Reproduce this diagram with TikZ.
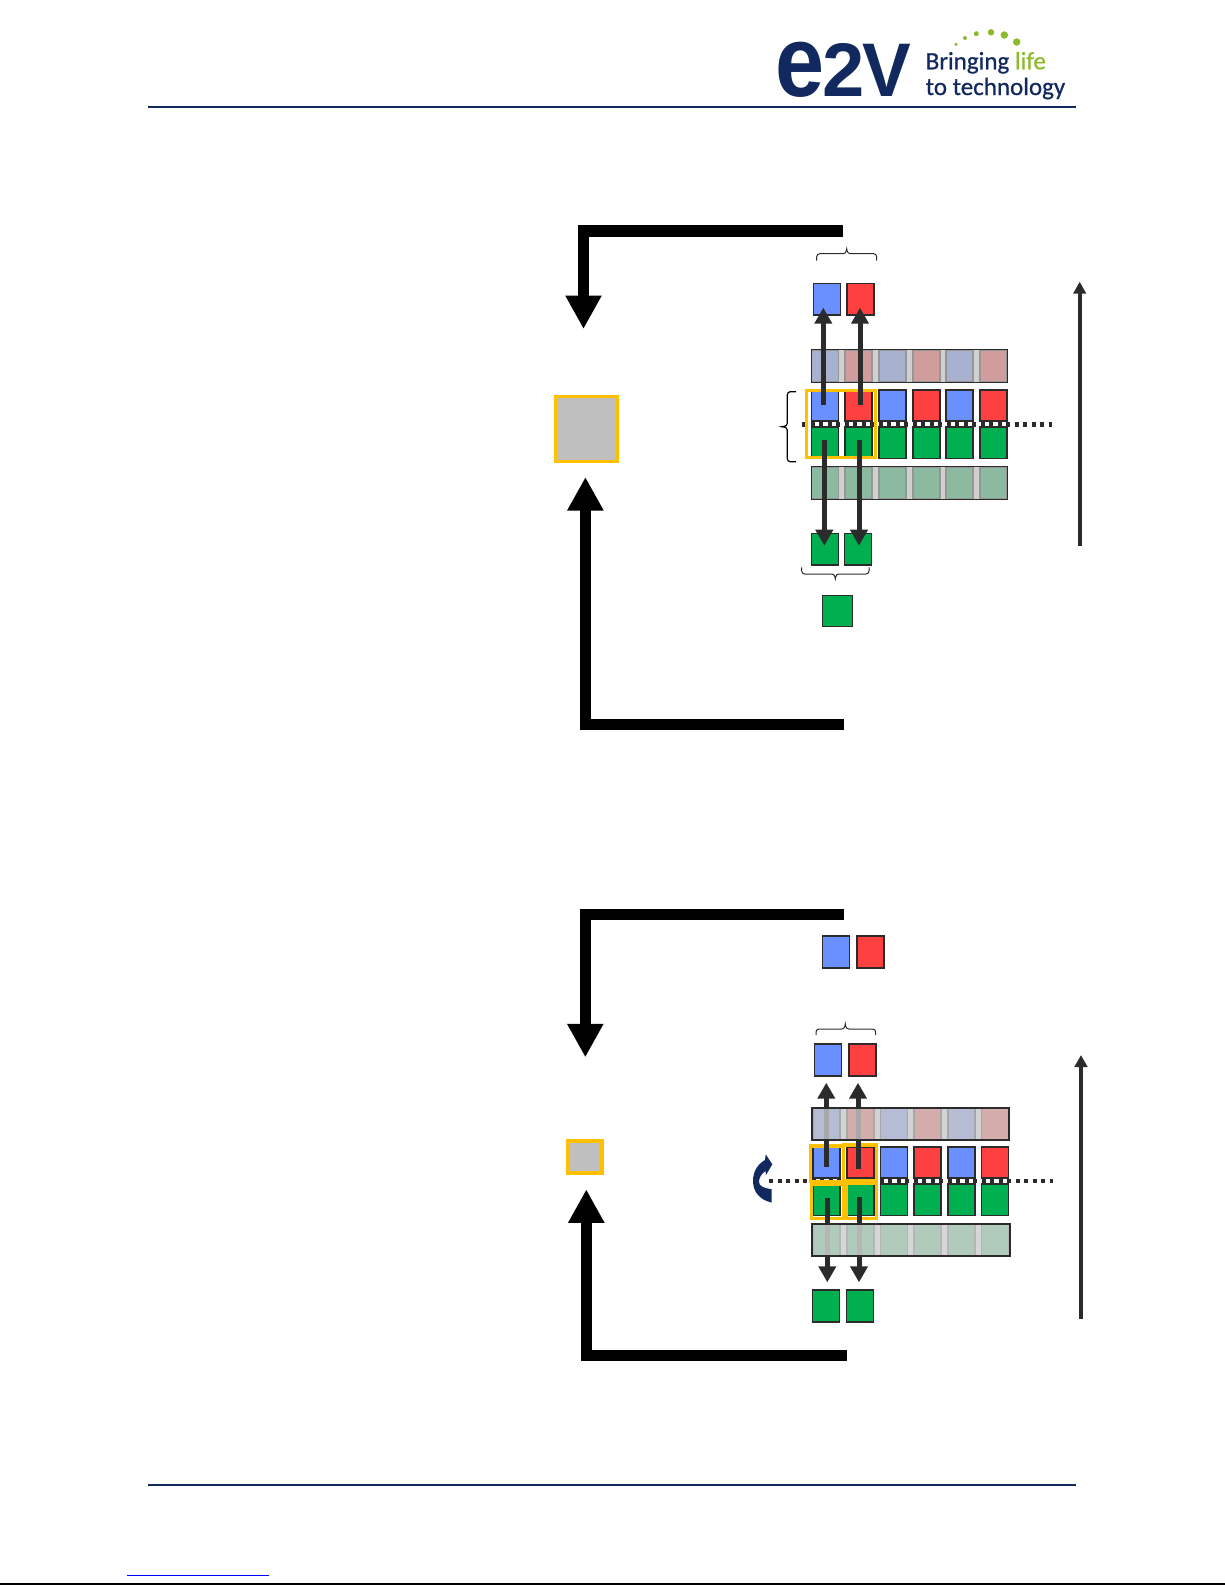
\documentclass[tikz,border=0pt]{standalone}
\usepackage{fontspec}
\setmainfont{Liberation Sans}
\newfontfamily\tagfont[FakeBold=0.7]{Carlito}
\usetikzlibrary{arrows.meta}
\definecolor{navy}{HTML}{12295F}
\definecolor{lime}{HTML}{8DB92E}
\definecolor{inkgray}{HTML}{2B2B2B}
\definecolor{pixblue}{HTML}{6A8FFF}
\definecolor{pixred}{HTML}{FF4040}
\definecolor{pixgreen}{HTML}{00B050}
\definecolor{frame}{HTML}{FFC000}
\definecolor{veiltop}{HTML}{BFBFBF}
\definecolor{veillow}{HTML}{C8C8C8}
\definecolor{veilpale}{HTML}{CFCFCF}

\begin{document}
\begin{tikzpicture}[x=1pt,y=-1pt,node distance=33.7pt,
    cell/.style={rectangle,draw=inkgray,line width=1.8pt,inner sep=0pt,outer sep=0pt,minimum width=27pt,minimum height=31.6pt},
    blue cell/.style={cell,fill=pixblue},
    red cell/.style={cell,fill=pixred},
    green cell/.style={cell,fill=pixgreen},
    pale top/.style={rectangle,draw=inkgray,inner sep=0pt,outer sep=0pt,fill=veiltop,fill opacity=.73,line width=1pt,minimum width=196pt,minimum height=33pt},
    pale low/.style={rectangle,draw=inkgray,inner sep=0pt,outer sep=0pt,fill=veillow,fill opacity=.8,line width=2pt,minimum width=197pt,minimum height=32pt},
    gate/.style={rectangle,draw=frame,line width=3.4pt,inner sep=0pt,outer sep=0pt},
    sensor/.style={gate,fill=black!25},
    heavy/.style={draw=black,line width=11.5pt,miter limit=10,-{Triangle[width=34pt,length=33.5pt]}},
    readout/.style={draw=inkgray,line width=5pt,-{Triangle[width=17pt,length=16pt]}},
    scan/.style={draw=inkgray,line width=3.6pt,-{Triangle[width=12.5pt,length=12pt]}},
    midline/.style={draw=inkgray,line width=4.4pt,dash pattern=on 4.2pt off 4.3pt},
    bracket/.style={draw=inkgray,line width=1pt,rounded corners=3pt},
    dot/.style={circle,fill=lime,inner sep=0pt,outer sep=0pt}]
    \useasboundingbox (0,0) rectangle (1225,1585);

    % header
    \node[text=navy,font=\bfseries\fontsize{76}{76}\selectfont,inner sep=0pt,anchor=base west] (logo) at (775.5,96.7) {\scalebox{1.16}[1.33]{e}\kern-2pt 2\kern-3pt \scalebox{.96}[1]{V}};
    \node[text=navy,font=\tagfont\fontsize{25}{26}\selectfont,inner sep=0pt,anchor=base west] (tagA) at (925.5,69.3) {Bringing \textcolor{lime}{life}};
    \node[text=navy,font=\tagfont\fontsize{25}{26}\selectfont,inner sep=0pt,anchor=base west] (tagB) at (925.5,95) {to technology};
    \node[dot,minimum size=3.5pt] (d1) at (956,44.3) {};
    \node[dot,minimum size=4pt] (d2) at (965,38) {};
    \node[dot,minimum size=5pt] (d3) at (976.3,33.7) {};
    \node[dot,minimum size=6.5pt] (d4) at (991,32.3) {};
    \node[dot,minimum size=7.5pt] (d5) at (1004.3,35) {};
    \node[dot,minimum size=7.5pt] (d6) at (1016.7,42) {};
    \coordinate (ruleA) at (148,106.7);
    \coordinate (ruleB) at (1076,106.7);
    \draw[navy,line width=1.8pt] (ruleA) -- (ruleB);

    % upper panel: read-out rows
    \node[blue cell] (ua1) at (825,366) {};
    \node[red cell] (ua2) [right of=ua1] {};
    \node[blue cell] (ua3) [right of=ua2] {};
    \node[red cell] (ua4) [right of=ua3] {};
    \node[blue cell] (ua5) [right of=ua4] {};
    \node[red cell] (ua6) [right of=ua5] {};
    \node[pale top] (upale1) at (909,366) {};

    \node[blue cell] (ub1) at (825,405.5) {};
    \node[red cell] (ub2) [right of=ub1] {};
    \node[blue cell] (ub3) [right of=ub2] {};
    \node[red cell] (ub4) [right of=ub3] {};
    \node[blue cell] (ub5) [right of=ub4] {};
    \node[red cell] (ub6) [right of=ub5] {};

    \node[green cell] (uc1) at (825,442.7) {};
    \node[green cell] (uc2) [right of=uc1] {};
    \node[green cell] (uc3) [right of=uc2] {};
    \node[green cell] (uc4) [right of=uc3] {};
    \node[green cell] (uc5) [right of=uc4] {};
    \node[green cell] (uc6) [right of=uc5] {};

    \node[green cell] (ud1) at (825,483) {};
    \node[green cell] (ud2) [right of=ud1] {};
    \node[green cell] (ud3) [right of=ud2] {};
    \node[green cell] (ud4) [right of=ud3] {};
    \node[green cell] (ud5) [right of=ud4] {};
    \node[green cell] (ud6) [right of=ud5] {};
    \node[pale top] (upale2) at (909,483) {};

    \coordinate (umidA) at (802,424.3);
    \coordinate (umidB) at (1052,424.3);
    \draw[midline] (umidA) -- (umidB);
    \node[gate,minimum width=69pt,minimum height=67pt] (ugate) at (841,424) {};

    \node[blue cell] (uoutB) at (827,299.3) {};
    \node[red cell] (uoutR) [right of=uoutB] {};
    \node[green cell] (uoutG1) at (825,549.3) {};
    \node[green cell] (uoutG2) at (858,549.3) {};
    \node[green cell,minimum width=30pt,minimum height=31pt] (usum) at (837.5,611) {};
    \node[sensor,line width=2.8pt,minimum width=62pt,minimum height=65pt] (usensor) at (586.7,429) {};

    \coordinate (ufromB) at (823.3,405);
    \coordinate (utoB) at (823.3,307.7);
    \coordinate (ufromR) at (860,405);
    \coordinate (utoR) at (860,307.7);
    \coordinate (ufromG1) at (824.3,440);
    \coordinate (utoG1) at (824.3,545.7);
    \coordinate (ufromG2) at (859,440);
    \coordinate (utoG2) at (859,545.7);
    \draw[readout] (ufromB) -- (utoB);
    \draw[readout] (ufromR) -- (utoR);
    \draw[readout] (ufromG1) -- (utoG1);
    \draw[readout] (ufromG2) -- (utoG2);

    \coordinate (ubraceA) at (816.7,260.7);
    \coordinate (ubraceB) at (876.7,260.7);
    \draw[bracket] (ubraceA) -- ++(0,-7) -- ++(29.4,0) -- ++(.6,-6.7) -- ++(.6,6.7) -- ++(29.4,0) -- (ubraceB);
    \coordinate (ubraceC) at (801.7,567.3);
    \coordinate (ubraceD) at (869,567.3);
    \draw[bracket] (ubraceC) -- ++(0,6.7) -- ++(33,0) -- ++(.6,6.7) -- ++(.6,-6.7) -- ++(33.1,0) -- (ubraceD);
    \coordinate (ubraceE) at (796,461.7);
    \coordinate (ubraceF) at (796,391.7);
    \draw[bracket,draw=black,line width=1.2pt] (ubraceE) -- ++(-8.7,0) -- ++(0,-34.4) -- ++(-7.3,-.6) -- ++(7.3,-.6) -- ++(0,-34.4) -- (ubraceF);

    \coordinate (utopA) at (843,230.8);
    \coordinate (utopB) at (583.5,230.8);
    \coordinate (utopC) at (583.5,329);
    \draw[heavy] (utopA) -- (utopB) -- (utopC);
    \coordinate (ulowA) at (844.3,724.5);
    \coordinate (ulowB) at (585.4,724.5);
    \coordinate (ulowC) at (585.4,477);
    \draw[heavy] (ulowA) -- (ulowB) -- (ulowC);

    \coordinate (uscanA) at (1079.7,546);
    \coordinate (uscanB) at (1079.7,281.7);
    \draw[scan] (uscanA) -- (uscanB);

    % lower panel: read-out rows
    \node[blue cell] (la1) at (826.5,1124.3) {};
    \node[red cell] (la2) [right of=la1] {};
    \node[blue cell] (la3) [right of=la2] {};
    \node[red cell] (la4) [right of=la3] {};
    \node[blue cell] (la5) [right of=la4] {};
    \node[red cell] (la6) [right of=la5] {};

    \node[blue cell] (lb1) at (826.5,1162.5) {};
    \node[red cell] (lb2) [right of=lb1] {};
    \node[blue cell] (lb3) [right of=lb2] {};
    \node[red cell] (lb4) [right of=lb3] {};
    \node[blue cell] (lb5) [right of=lb4] {};
    \node[red cell] (lb6) [right of=lb5] {};

    \node[green cell] (lc1) at (826.5,1199.6) {};
    \node[green cell] (lc2) [right of=lc1] {};
    \node[green cell] (lc3) [right of=lc2] {};
    \node[green cell] (lc4) [right of=lc3] {};
    \node[green cell] (lc5) [right of=lc4] {};
    \node[green cell] (lc6) [right of=lc5] {};

    \node[green cell] (ld1) at (826.5,1240) {};
    \node[green cell] (ld2) [right of=ld1] {};
    \node[green cell] (ld3) [right of=ld2] {};
    \node[green cell] (ld4) [right of=ld3] {};
    \node[green cell] (ld5) [right of=ld4] {};
    \node[green cell] (ld6) [right of=ld5] {};

    \coordinate (lmidA) at (769,1180.7);
    \coordinate (lmidB) at (1053,1180.7);
    \draw[midline] (lmidA) -- (lmidB);
    \node[gate,minimum width=33pt,minimum height=35.7pt] (lgateB) at (826.8,1163.8) {};
    \node[gate,minimum width=33pt,minimum height=35.7pt] (lgateR) at (860,1162.8) {};
    \node[gate,minimum width=31.7pt,minimum height=34.4pt] (lgateG1) at (827.5,1201.2) {};
    \node[gate,minimum width=30pt,minimum height=35pt] (lgateG2) at (861.7,1200.8) {};

    \node[blue cell] (linB) at (836,952) {};
    \node[red cell] (linR) at (870.5,952) {};
    \node[blue cell] (loutB) at (828,1060) {};
    \node[red cell] (loutR) at (862.5,1060) {};
    \node[green cell] (loutG1) at (826,1306) {};
    \node[green cell] (loutG2) at (860,1306) {};
    \node[sensor,line width=4pt,minimum width=34pt,minimum height=32pt] (lsensor) at (585,1157) {};

    \coordinate (lfromB) at (826.3,1166.7);
    \coordinate (ltoB) at (826.3,1082.7);
    \coordinate (lfromR) at (858,1169.3);
    \coordinate (ltoR) at (858,1082.7);
    \coordinate (lfromG1) at (827.3,1198.3);
    \coordinate (ltoG1) at (827.3,1282.3);
    \coordinate (lfromG2) at (859,1197);
    \coordinate (ltoG2) at (859,1282.3);
    \draw[readout] (lfromB) -- (ltoB);
    \draw[readout] (lfromR) -- (ltoR);
    \draw[readout] (lfromG1) -- (ltoG1);
    \draw[readout] (lfromG2) -- (ltoG2);

    \node[pale low] (lpale1) at (910,1124.3) {};
    \node[pale low,fill=veilpale,fill opacity=.85,minimum width=198pt] (lpale2) at (910.8,1240.3) {};

    \coordinate (lbraceA) at (816,1035);
    \coordinate (lbraceB) at (875.7,1035);
    \draw[bracket] (lbraceA) -- ++(0,-6) -- ++(28.7,0) -- ++(.6,-7) -- ++(.6,7) -- ++(29.8,0) -- (lbraceB);

    \coordinate (ltopA) at (844.3,914.7);
    \coordinate (ltopB) at (585.3,914.7);
    \coordinate (ltopC) at (585.3,1057.3);
    \draw[heavy] (ltopA) -- (ltopB) -- (ltopC);
    \coordinate (llowA) at (846.7,1355.7);
    \coordinate (llowB) at (586.3,1355.7);
    \coordinate (llowC) at (586.3,1189.3);
    \draw[heavy] (llowA) -- (llowB) -- (llowC);

    \coordinate (lscanA) at (1081,1319.3);
    \coordinate (lscanB) at (1081,1055);
    \draw[scan] (lscanA) -- (lscanB);

    % flip mark
    \fill[navy] (771.5,1202.5) .. controls (760,1200) and (753,1192) .. (753,1181) .. controls (753,1171) and (758,1164) .. (765,1160) -- (765.7,1154.3) -- (772.3,1164.3) -- (766,1175) -- (765.5,1171) .. controls (761,1174) and (759,1178) .. (759,1182) .. controls (759,1186) and (764,1188.5) .. (771.5,1189) -- cycle;

    % footer
    \coordinate (footA) at (148,1485);
    \coordinate (footB) at (1076,1485);
    \draw[navy,line width=2pt] (footA) -- (footB);
    \coordinate (linkA) at (127,1575);
    \coordinate (linkB) at (269,1575);
    \draw[blue,line width=1pt] (linkA) -- (linkB);
    \coordinate (edgeA) at (0,1584);
    \coordinate (edgeB) at (1225,1584);
    \draw[black,line width=1.2pt] (edgeA) -- (edgeB);
\end{tikzpicture}
\end{document}
